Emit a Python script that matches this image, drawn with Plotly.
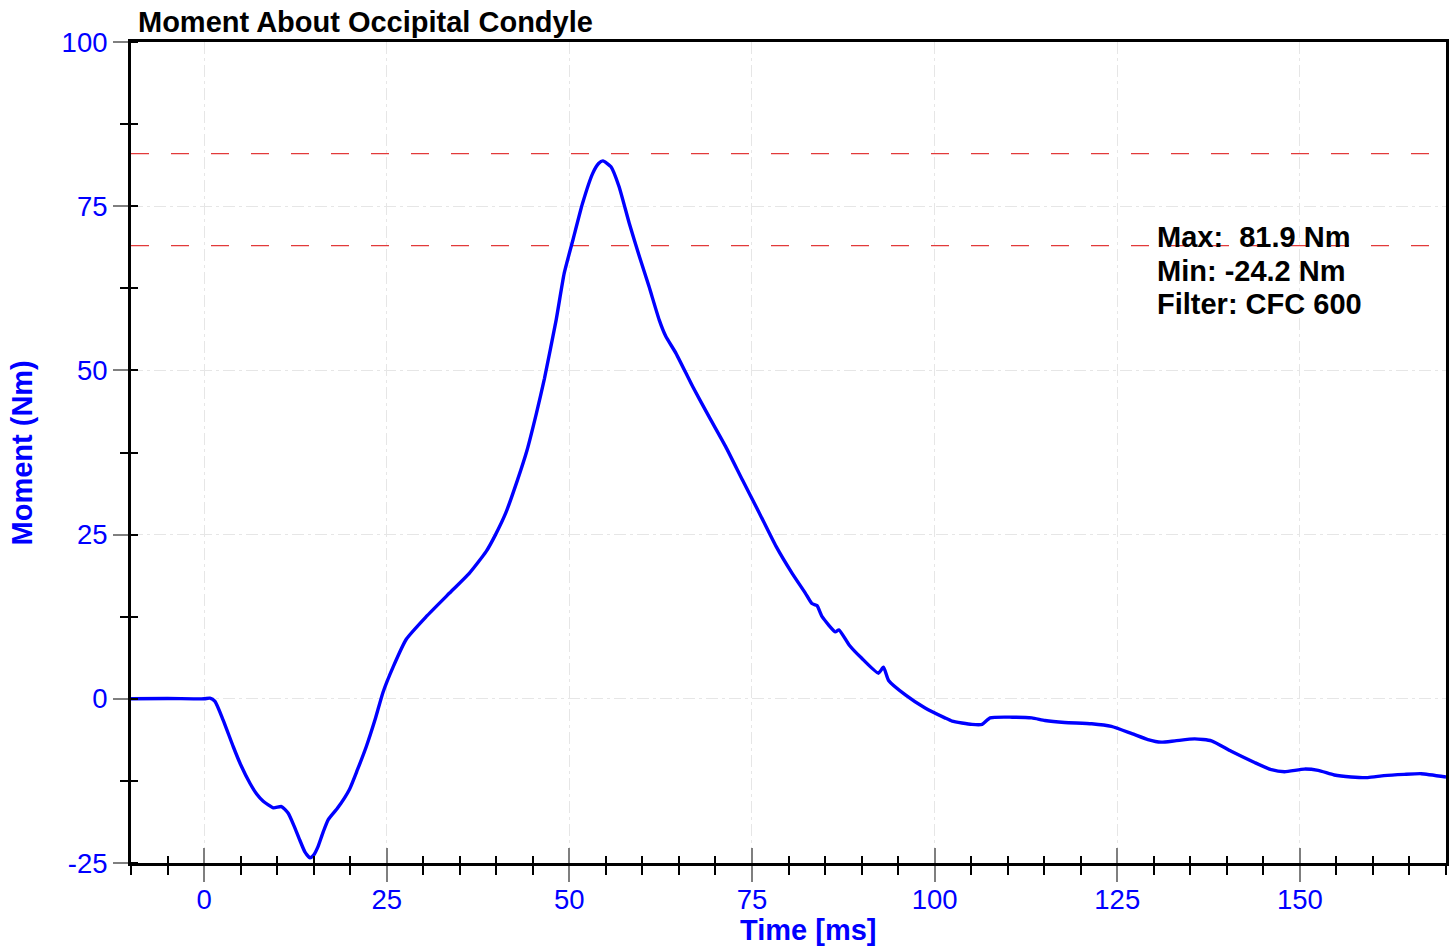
import plotly.graph_objects as go

time_ms = [-10, -5, 0, 0.8, 1.5, 2.6, 4.0, 5.0, 6.3, 7.2, 8.1, 9.5, 10.6, 11.5, 12.3, 13.1, 13.8,
           14.5, 15.0, 15.6, 16.3, 17.0, 18.3, 19.9, 21.0, 22.2, 23.4, 24.5, 25.9, 27.7, 30.4,
           33.6, 36.3, 38.6, 39.9, 41.3, 42.9, 44.2, 45.5, 46.6, 48.2, 49.3, 50.5, 51.8, 53.2,
           54.0, 54.6, 55.7, 56.8, 58.2, 59.6, 60.9, 62.3, 63.2, 64.6, 66.9, 69.1, 71.4, 73.7,
           76.0, 78.3, 80.5, 82.3, 83.2, 83.9, 84.6, 86.4, 86.9, 88.3, 90.0, 92.3, 93.0, 93.7,
           96.0, 98.7, 101.4, 102.4, 105.1, 106.5, 107.6, 110.6, 113.3, 115.1, 117.8, 121.5,
           124.2, 127.0, 129.2, 131.0, 132.9, 135.6, 137.9, 140.6, 143.8, 146.1, 147.9, 150.6,
           152.5, 154.7, 157.0, 159.3, 161.5, 164.3, 166.6, 170]
moment_nm = [0, 0.05, 0, 0.1, -0.4, -3.2, -7.3, -10.0, -12.9, -14.5, -15.6, -16.6, -16.4, -17.4,
             -19.3, -21.5, -23.3, -24.2, -23.8, -22.5, -20.3, -18.4, -16.6, -13.8, -10.8, -7.3,
             -3.2, 1.0, 4.9, 9.1, 12.5, 16.1, 19.1, 22.4, 25.0, 28.3, 33.3, 37.8, 43.5, 48.8,
             57.7, 64.8, 69.9, 75.4, 80.0, 81.5, 81.9, 81.0, 78.0, 72.4, 67.3, 62.8, 57.7, 55.2,
             52.6, 47.5, 43.0, 38.4, 33.3, 28.3, 23.2, 19.1, 16.1, 14.5, 14.2, 12.5, 10.2, 10.5,
             8.2, 6.2, 3.9, 4.8, 2.8, 0.6, -1.4, -2.9, -3.4, -3.9, -3.9, -2.9, -2.8, -2.9, -3.3,
             -3.6, -3.8, -4.2, -5.3, -6.2, -6.6, -6.4, -6.1, -6.4, -8.0, -9.7, -10.8, -11.1,
             -10.7, -10.9, -11.6, -11.9, -12.0, -11.7, -11.5, -11.4, -11.9]

limit_lines = [83, 69]
x_ticks = [0, 25, 50, 75, 100, 125, 150]
x_ticktext = ["0", "25", "50", "75", "100", "125", "150"]
y_ticks = [-25, 0, 25, 50, 75, 100]
y_ticktext = ["-25", "0", "25", "50", "75", "100"]
stats_text = ["Max:  81.9 Nm", "Min: -24.2 Nm", "Filter: CFC 600"]
stats_y = [70.3, 65.2, 60.1]

FONT = "Liberation Sans, Arial, sans-serif"
BLUE = "#0000ff"
GRID = "#e6e6e6"
GRAYTICK = "#7f7f7f"

fig = go.Figure()
fig.add_trace(go.Scatter(x=time_ms, y=moment_nm, mode="lines",
                         line=dict(color=BLUE, width=3.4, shape="spline", smoothing=0.5),
                         showlegend=False, hoverinfo="x+y"))
# dummy trace for overlay axes
fig.add_trace(go.Scatter(x=[None], y=[None], xaxis="x2", yaxis="y2", showlegend=False,
                         hoverinfo="skip"))

for yv in limit_lines:
    fig.add_shape(type="line", xref="paper", x0=0, x1=1, yref="y", y0=yv, y1=yv,
                  line=dict(color="#e23a3a", width=1.2, dash="18px,22px"), layer="below")

fig.update_layout(
    width=1452, height=948,
    margin=dict(l=131, r=6, t=42, b=85),
    paper_bgcolor="white", plot_bgcolor="white",
    font=dict(family=FONT, size=28, color=BLUE),
    xaxis=dict(range=[-10, 170], tickvals=x_ticks, ticktext=x_ticktext, ticks="outside",
               ticklen=16, tickcolor=GRAYTICK, tickwidth=1.5, showline=True,
               linecolor="black", linewidth=3, mirror=True, showgrid=True, gridcolor=GRID,
               gridwidth=1, griddash="12px,4px,3px,4px", zeroline=False, automargin=False,
               ticklabelstandoff=-6,
               tickfont=dict(family=FONT, size=27.5, color=BLUE),
               minor=dict(dtick=5, tick0=0, ticks="outside", ticklen=9, tickcolor="black",
                          tickwidth=1.5, showgrid=False)),
    xaxis2=dict(range=[-10, 170], overlaying="x", side="bottom", anchor="y",
                tickvals=x_ticks, ticks="inside", ticklen=15, tickcolor=GRAYTICK,
                tickwidth=1.5, showticklabels=False, showline=False, showgrid=False,
                zeroline=False, automargin=False,
                minor=dict(dtick=5, tick0=0, ticks="inside", ticklen=7, tickcolor="black",
                           tickwidth=1.5, showgrid=False)),
    yaxis=dict(range=[-25, 100], tickvals=y_ticks, ticktext=y_ticktext, ticks="outside",
               ticklen=15, tickcolor=GRAYTICK, tickwidth=1.5, showline=True,
               linecolor="black", linewidth=3, mirror=True, showgrid=True, gridcolor=GRID,
               gridwidth=1, griddash="12px,4px,3px,4px", zeroline=False, automargin=False,
               tickfont=dict(family=FONT, size=27.5, color=BLUE),
               minor=dict(dtick=12.5, tick0=0, ticks="outside", ticklen=8, tickcolor="black",
                          tickwidth=1.5, showgrid=False)),
    yaxis2=dict(range=[-25, 100], overlaying="y", side="left", anchor="x",
                tickvals=y_ticks, ticks="", showticklabels=False, showline=False,
                showgrid=False, zeroline=False, automargin=False,
                minor=dict(dtick=12.5, tick0=0, ticks="inside", ticklen=7, tickcolor="black",
                           tickwidth=1.5, showgrid=False)),
)

# title
fig.add_annotation(text="<b>Moment About Occipital Condyle</b>", xref="paper", yref="paper",
                   x=0, y=1.0244, xanchor="left", yanchor="middle", xshift=5, showarrow=False,
                   font=dict(family=FONT, size=29, color="black"))
# axis titles
fig.add_annotation(text="<b>Time [ms]</b>", xref="paper", yref="paper", x=0.515,
                   y=-0.0816, xanchor="center", yanchor="middle", showarrow=False,
                   font=dict(family=FONT, size=29, color=BLUE))
fig.add_annotation(text="<b>Moment (Nm)</b>", xref="paper", yref="paper", x=-0.0829,
                   y=0.5, xanchor="center", yanchor="middle", textangle=-90, showarrow=False,
                   font=dict(family=FONT, size=29, color=BLUE))
# stats
for txt, yv in zip(stats_text, stats_y):
    fig.add_annotation(text="<b>" + txt + "</b>", xref="x", yref="y", x=130.2, y=yv,
                       xanchor="left", yanchor="middle", showarrow=False,
                       font=dict(family=FONT, size=29, color="black"))

fig.write_html("out.html",
               config={"displayModeBar": False},
               post_script="document.body.style.margin='0';"
                           "document.body.style.overflow='hidden';")
